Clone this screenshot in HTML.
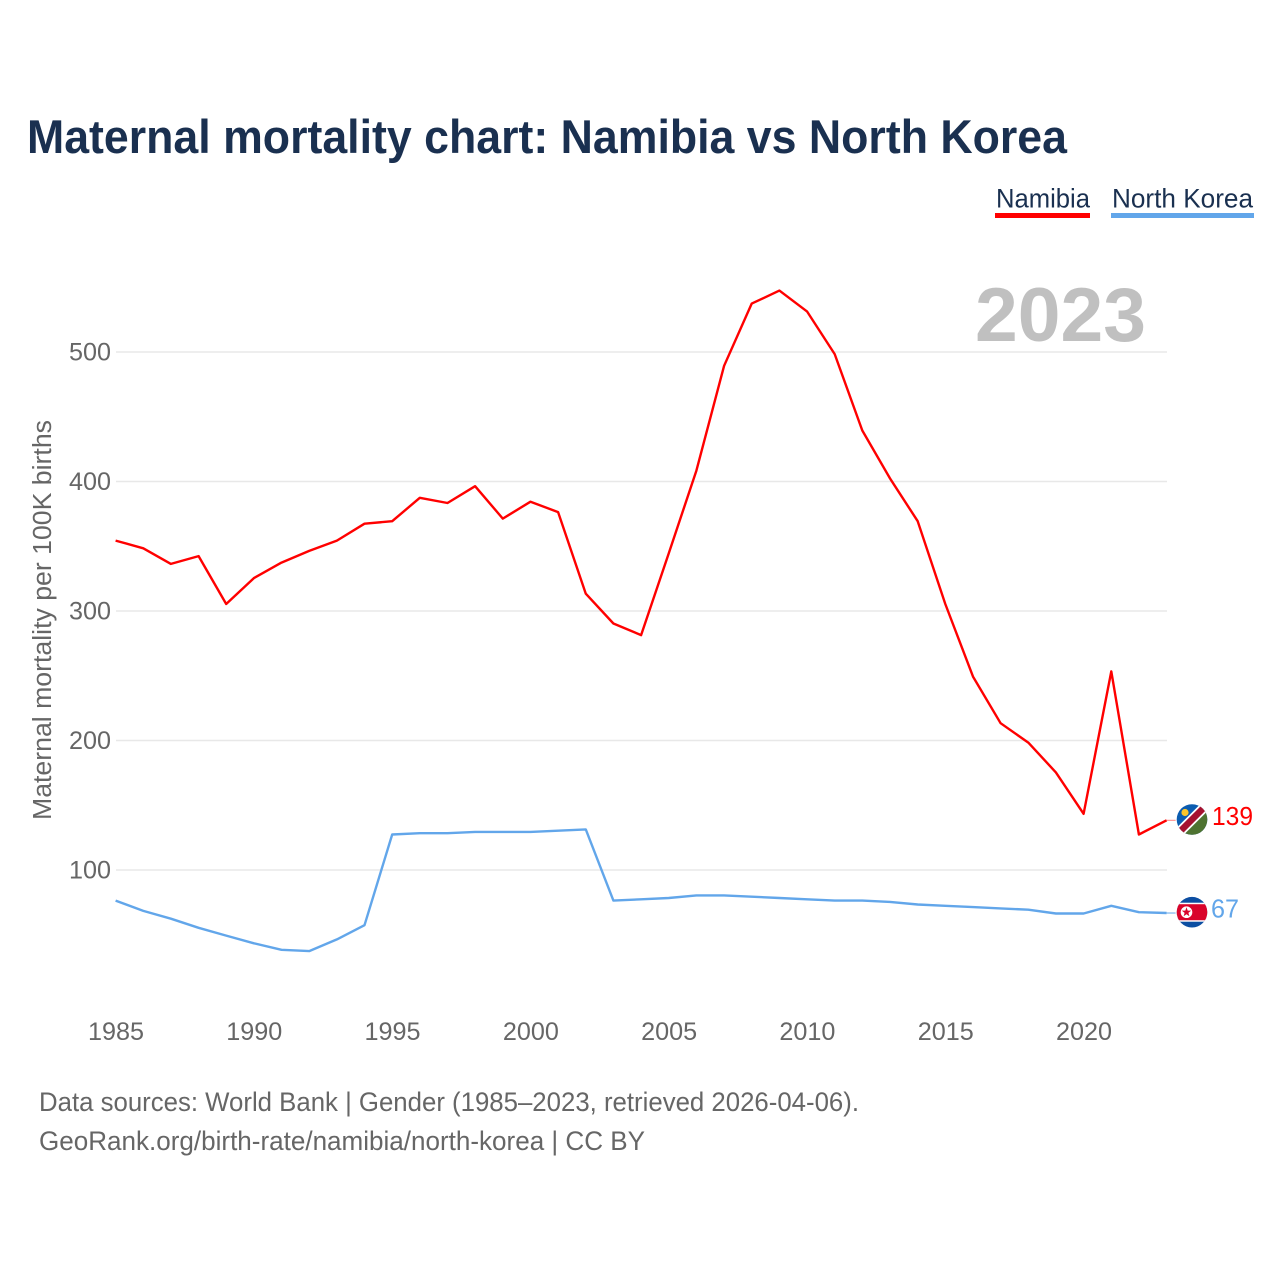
<!DOCTYPE html>
<html lang="en">
<head>
<meta charset="utf-8">
<title>Maternal mortality chart: Namibia vs North Korea</title>
<style>
html,body{margin:0;padding:0;background:#fff;}
svg{display:block;font-family:"Liberation Sans",sans-serif;}
</style>
</head>
<body>
<svg id="chart" xmlns="http://www.w3.org/2000/svg" width="1280" height="1280" viewBox="0 0 1280 1280">
  <defs>
    <clipPath id="flag-clip-na"><circle cx="0" cy="0" r="15.3"/></clipPath>
    <clipPath id="flag-clip-kp"><circle cx="0" cy="0" r="15.3"/></clipPath>
  </defs>
  <rect width="1280" height="1280" fill="#fff"/>
  <text x="27" y="153" font-size="47" font-weight="700" fill="#1a3050" textLength="1040" lengthAdjust="spacingAndGlyphs">Maternal mortality chart: Namibia vs North Korea</text>

  <g>
    <g>
      <text x="996" y="207.5" font-size="27" fill="#1a3050" textLength="94" lengthAdjust="spacingAndGlyphs">Namibia</text>
      <rect x="995" y="213" width="95" height="5" fill="#ff0000"/>
    </g>
    <g>
      <text x="1112" y="207.5" font-size="27" fill="#1a3050" textLength="141" lengthAdjust="spacingAndGlyphs">North Korea</text>
      <rect x="1111" y="213" width="143" height="5" fill="#62a6ea"/>
    </g>
  </g>

  <text x="975" y="341" font-size="76" font-weight="700" fill="#c0c0c0" textLength="171" lengthAdjust="spacingAndGlyphs">2023</text>

  <g id="grid"></g>
  <g id="y-ticks"></g>
  <g id="x-ticks"></g>

  <text transform="translate(51,820) rotate(-90)" x="0" y="0" font-size="25.5" fill="#666" textLength="400" lengthAdjust="spacingAndGlyphs">Maternal mortality per 100K births</text>

  <g id="series" transform="translate(-0.4,0.8)"></g>

  <g id="flag-na">
    <g clip-path="url(#flag-clip-na)">
      <rect x="-16" y="-16" width="32" height="32" fill="#0b5cb0"/>
      <polygon points="16,-16 16,16 -16,16" fill="#4e7331"/>
      <line x1="-16" y1="16" x2="16" y2="-16" stroke="#fff" stroke-width="10"/>
      <line x1="-16" y1="16" x2="16" y2="-16" stroke="#a5112f" stroke-width="6.5"/>
      <circle cx="-7" cy="-7" r="3.6" fill="#fcc52a"/>
    </g>
  </g>
  <g id="flag-kp">
    <g clip-path="url(#flag-clip-kp)">
      <rect x="-16" y="-16" width="32" height="32" fill="#0c4ea2"/>
      <rect x="-16" y="-9.5" width="32" height="19" fill="#fff"/>
      <rect x="-16" y="-8" width="32" height="16" fill="#d9042b"/>
      <circle cx="-5.5" cy="0" r="5.8" fill="#fff"/>
      <polygon points="-5.5,-5 -4.3,-1.6 -0.8,-1.6 -3.6,0.6 -2.6,4 -5.5,2 -8.4,4 -7.4,0.6 -10.2,-1.6 -6.7,-1.6" fill="#d9042b"/>
    </g>
  </g>

  <text id="end-label-na" x="1212" font-size="26" fill="#ff0000" textLength="41" lengthAdjust="spacingAndGlyphs"></text>
  <text id="end-label-kp" x="1211" font-size="26" fill="#62a6ea" textLength="28" lengthAdjust="spacingAndGlyphs"></text>

  <text x="39" y="1111" font-size="26.5" fill="#666" textLength="820" lengthAdjust="spacingAndGlyphs">Data sources: World Bank | Gender (1985–2023, retrieved 2026-04-06).</text>
  <text x="39" y="1150" font-size="26.5" fill="#666" textLength="606" lengthAdjust="spacingAndGlyphs">GeoRank.org/birth-rate/namibia/north-korea | CC BY</text>
</svg>
<script>
const years = [1985,1986,1987,1988,1989,1990,1991,1992,1993,1994,1995,1996,1997,1998,1999,2000,2001,2002,2003,2004,2005,2006,2007,2008,2009,2010,2011,2012,2013,2014,2015,2016,2017,2018,2019,2020,2021,2022,2023];
const namibia = [355,349,337,343,306,326,338,347,355,368,370,388,384,397,372,385,377,314,291,282,345,409,490,538,548,532,499,440,403,370,306,250,214,199,176,144,254,128,139];
const northKorea = [77,69,63,56,50,44,39,38,47,58,128,129,129,130,130,130,131,132,77,78,79,81,81,80,79,78,77,77,76,74,73,72,71,70,67,67,73,68,67.4];
const yTickValues = [100,200,300,400,500];
const xTickValues = [1985,1990,1995,2000,2005,2010,2015,2020];

const NS = 'http://www.w3.org/2000/svg';
function xScale(year){ return 116 + (year - 1985) * (968 / 35); }
function yScale(v){ return 870 - (v - 100) * 1.295; }
function svgEl(tag, attrs, parent){
  const el = document.createElementNS(NS, tag);
  for (const k in attrs) el.setAttribute(k, attrs[k]);
  parent.appendChild(el);
  return el;
}

const gridG = document.getElementById('grid');
const yG = document.getElementById('y-ticks');
yTickValues.forEach(function(v){
  const line = svgEl('line', {x1:116, x2:1167, y1:yScale(v), y2:yScale(v), stroke:'#e8e8e8', 'stroke-width':1.5}, gridG);
  
  
  const t = svgEl('text', {x:111, y:yScale(v)+8.5, 'text-anchor':'end', 'font-size':25, fill:'#666', textLength:42, lengthAdjust:'spacingAndGlyphs'}, yG);
  
  
  t.textContent = v;
});

const xG = document.getElementById('x-ticks');
xTickValues.forEach(function(y){
  const t = svgEl('text', {x:xScale(y), y:1040, 'text-anchor':'middle', 'font-size':25, fill:'#666', textLength:56, lengthAdjust:'spacingAndGlyphs'}, xG);
  
  
  t.textContent = y;
});

function pathFor(vals){
  return vals.map(function(v, i){
    return (i ? 'L' : 'M') + xScale(years[i]).toFixed(1) + ' ' + yScale(v).toFixed(1);
  }).join(' ');
}
const seriesG = document.getElementById('series');
const lineNa = svgEl('path', {d:pathFor(namibia), fill:'none', stroke:'#ff0000', 'stroke-width':2.4, 'stroke-linejoin':'round'}, seriesG);


const lineKp = svgEl('path', {d:pathFor(northKorea), fill:'none', stroke:'#62a6ea', 'stroke-width':2.4, 'stroke-linejoin':'round'}, seriesG);



const lastNa = namibia[namibia.length - 1];
const lastKp = northKorea[northKorea.length - 1];
const connNa = svgEl('line', {x1:1167, x2:1176, y1:yScale(lastNa), y2:yScale(lastNa), stroke:'#ff8080', 'stroke-width':1}, seriesG);


const connKp = svgEl('line', {x1:1167, x2:1176, y1:yScale(lastKp), y2:yScale(lastKp), stroke:'#62a6ea', 'stroke-width':1}, seriesG);



document.getElementById('flag-na').setAttribute('transform', 'translate(1192,' + yScale(lastNa) + ')');
document.getElementById('flag-kp').setAttribute('transform', 'translate(1192,' + yScale(lastKp) + ')');
const labelNa = document.getElementById('end-label-na');
labelNa.setAttribute('y', yScale(lastNa) + 5.5);
labelNa.textContent = Math.round(lastNa);
const labelKp = document.getElementById('end-label-kp');
labelKp.setAttribute('y', yScale(lastKp) + 5.5);
labelKp.textContent = Math.round(lastKp);
</script>
</body>
</html>
